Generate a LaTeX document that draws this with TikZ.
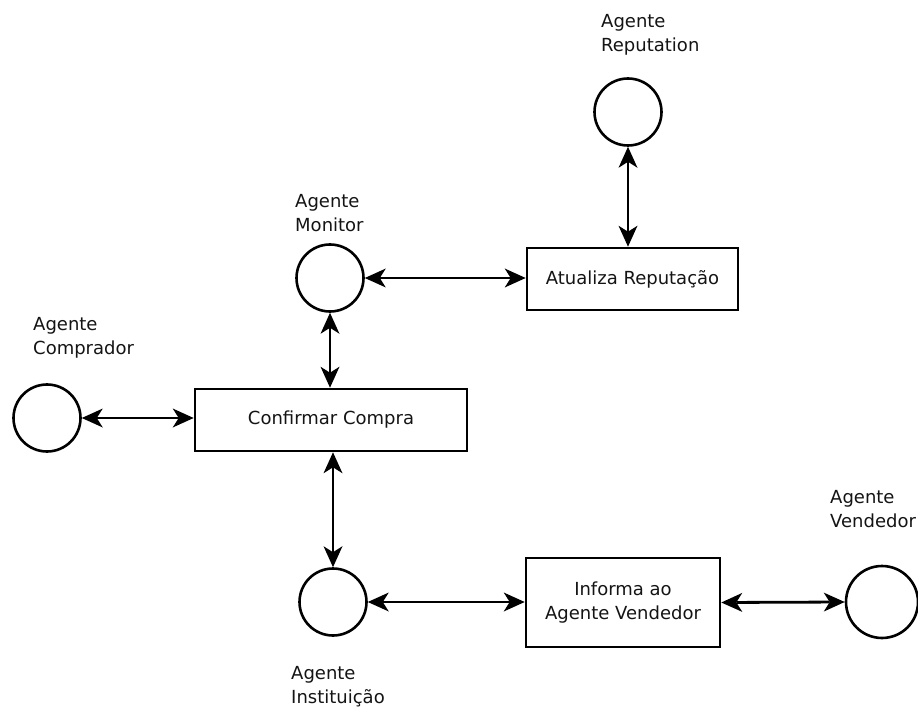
\documentclass[tikz,border=0pt]{standalone}
\usepackage{fontspec}
\setmainfont{DejaVu Sans}
\usetikzlibrary{arrows.meta}
\definecolor{ink}{HTML}{141414}
\tikzset{
  agent/.style={circle, draw=black, line width=2.6pt, minimum size=67pt, inner sep=0pt},
  taskbox/.style={draw=black, line width=2.6pt, inner sep=0pt, text=ink, font=\fontsize{18}{24}\selectfont, align=center},
  lbl/.style={anchor=base west, inner sep=0pt, text=ink, font=\fontsize{18}{24}\selectfont, align=left},
  tip/.tip={Stealth[length=21pt,width=19pt,inset=6pt,line width=0pt]},
  link/.style={line width=2.8pt, tip-tip}
}
\begin{document}
\begin{tikzpicture}[x=1pt,y=-1pt]
\useasboundingbox (0,0) rectangle (918,711);
% agents
\node[agent] (rep)  at (628,112) {};
\node[agent] (mon)  at (330,278) {};
\node[agent] (comp) at (47,418) {};
\node[agent] (inst) at (333,602) {};
\node[agent, minimum size=72pt] (vend) at (882,602) {};
% tasks
\node[taskbox, minimum width=211pt, minimum height=62pt] (atu) at (632.5,279) {Atualiza Reputação};
\node[taskbox, minimum width=272pt, minimum height=62pt] (conf) at (331,420) {Confirmar Compra};
\node[taskbox, minimum width=194pt, minimum height=89pt] (inf) at (623,602.5) {Informa ao\\Agente Vendedor};
% labels (anchor = baseline of the second line)
\node[lbl] (lrep)  at (601,52)  {Agente\\Reputation};
\node[lbl] (lmon)  at (295,232) {Agente\\Monitor};
\node[lbl] (lcomp) at (33,354)  {Agente\\Comprador};
\node[lbl] (linst) at (291,703) {Agente\\Instituição};
\node[lbl] (lvend) at (830,527) {Agente\\Vendedor};
% links
\draw[link] (rep.south) -- (rep.south |- atu.north);
\draw[link] (mon.east) -- (mon.east -| atu.west);
\draw[link] (mon.south) -- (mon.south |- conf.north);
\draw[link] (comp.east) -- (comp.east -| conf.west);
\draw[link] (inst.north |- conf.south) -- (inst.north);
\draw[link] (inst.east) -- (inst.east -| inf.west);
\draw[link] (inf.east) -- (vend.west);
\end{tikzpicture}
\end{document}
